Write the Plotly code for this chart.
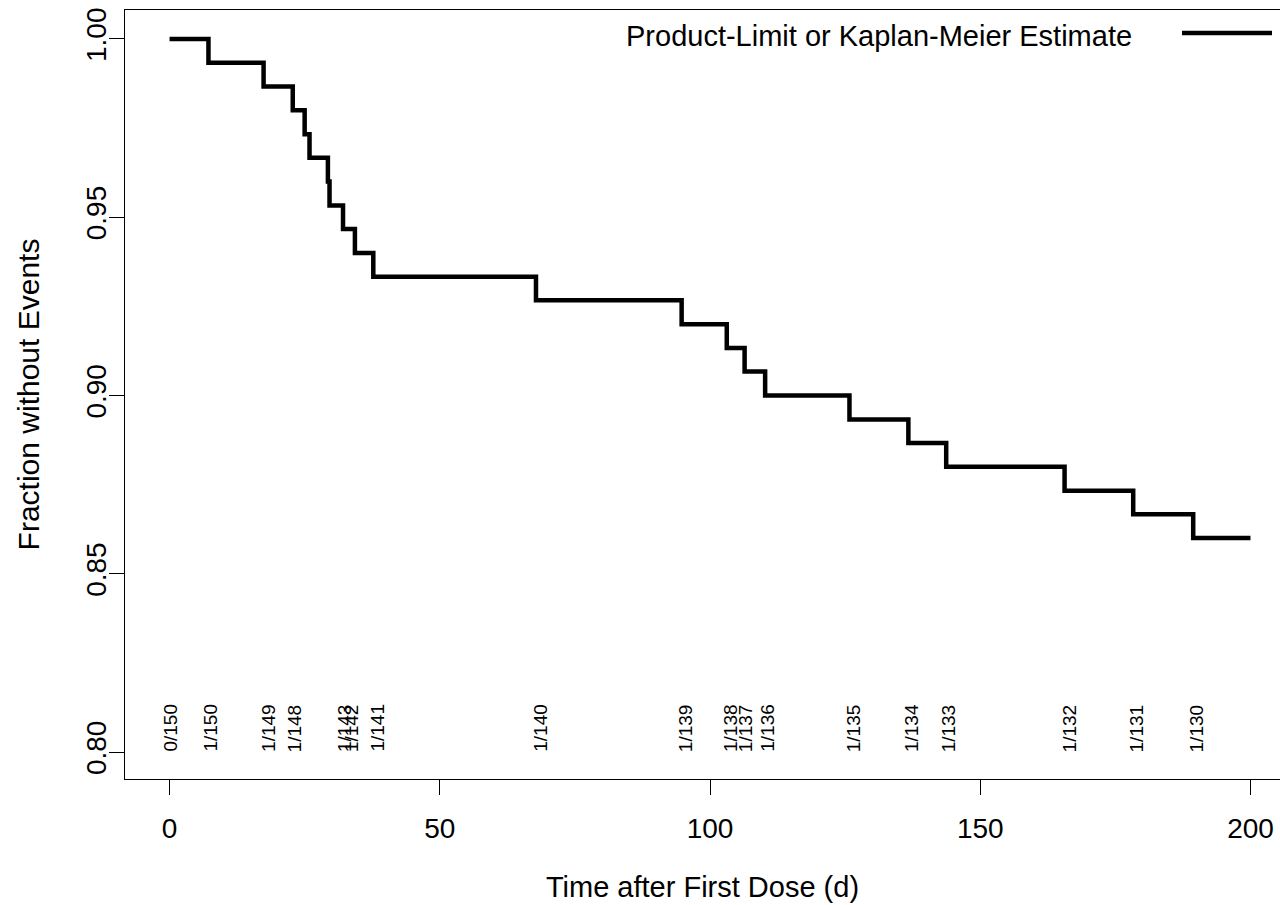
import plotly.graph_objects as go

# Kaplan-Meier step curve
times = [0, 7.2, 17.4, 22.8, 25.0, 25.9, 29.3, 29.6, 32.1, 34.3, 37.7,
         67.8, 94.75, 103.1, 106.4, 110.2, 125.8, 136.7, 143.7, 165.6, 178.3, 189.4, 200]
surv = [1.0000, 0.9933, 0.9867, 0.9800, 0.9733, 0.9667, 0.9600, 0.9533, 0.9467, 0.9400, 0.9333,
        0.9267, 0.9200, 0.9133, 0.9067, 0.9000, 0.8933, 0.8867, 0.8800, 0.8733, 0.8667, 0.8600, 0.8600]

# event / at-risk labels along the bottom
label_x = [0, 7.4, 18.2, 23.1, 32.3, 33.6, 38.3, 68.5, 95.4, 103.7, 106.5, 110.5,
           126.5, 137.2, 144.1, 166.5, 178.9, 190.0]
label_text = ["0/150", "1/150", "1/149", "1/148", "1/143", "1/142", "1/141", "1/140", "1/139",
              "1/138", "1/137", "1/136", "1/135", "1/134", "1/133", "1/132", "1/131", "1/130"]

x_ticks = [0, 50, 100, 150, 200]
y_ticks = [0.80, 0.85, 0.90, 0.95, 1.00]
y_tick_text = ["0.80", "0.85", "0.90", "0.95", "1.00"]

FONT = "Liberation Sans, Arial, Helvetica, sans-serif"

fig = go.Figure()
fig.add_trace(go.Scatter(
    x=times, y=surv, mode="lines", line=dict(shape="hv", color="black", width=4.5),
    showlegend=False, hoverinfo="skip"))

for lx, lt in zip(label_x, label_text):
    fig.add_annotation(x=lx, y=0.80, text=lt, textangle=-90, showarrow=False,
                       xanchor="center", yanchor="bottom", yshift=-2,
                       font=dict(family=FONT, size=19, color="black"))

# legend (text followed by line sample, as in the original)
fig.add_annotation(xref="paper", yref="paper", x=(1134 - 125) / 1155, y=(779 - 36) / 769,
                   text="Product-Limit or Kaplan-Meier Estimate", showarrow=False,
                   xanchor="right", yanchor="middle",
                   font=dict(family=FONT, size=29, color="black"))
fig.add_shape(type="line", xref="paper", yref="paper",
              x0=(1182 - 125) / 1155, x1=(1272 - 125) / 1155,
              y0=(779 - 33) / 769, y1=(779 - 33) / 769,
              line=dict(color="black", width=4.5))

fig.update_layout(
    width=1280, height=905,
    margin=dict(l=125, r=0, t=10, b=126),
    paper_bgcolor="white", plot_bgcolor="white",
    font=dict(family=FONT, color="black"),
    xaxis=dict(range=[-8.24, 205.46], tickvals=x_ticks, ticks="outside", ticklen=15,
               tickwidth=1, tickcolor="black", showline=True, linecolor="black", linewidth=1,
               mirror=True, showgrid=False, zeroline=False, ticklabelstandoff=9,
               tickfont=dict(family=FONT, size=28),
               title=dict(text="Time after First Dose (d)", font=dict(family=FONT, size=29),
                          standoff=34)),
    yaxis=dict(range=[0.79243, 1.00813], tickvals=y_ticks, ticktext=y_tick_text,
               ticks="outside", ticklen=15, tickwidth=1, tickcolor="black", tickangle=-90,
               ticklabelstandoff=-8,
               showline=True, linecolor="black", linewidth=1, showgrid=False, zeroline=False,
               tickfont=dict(family=FONT, size=28),
               title=dict(text="Fraction without Events", font=dict(family=FONT, size=30),
                          standoff=32)),
)

fig.write_html("out.html")
